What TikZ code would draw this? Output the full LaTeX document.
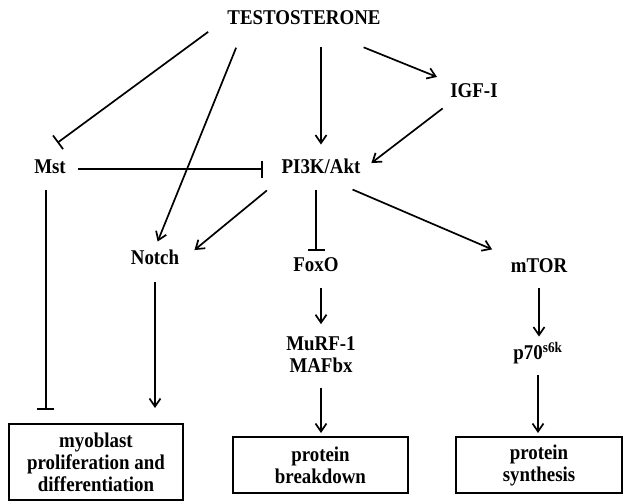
\documentclass[tikz,border=0pt]{standalone}
\usepackage{fontspec}
\setmainfont[FakeStretch=0.9]{Liberation Serif}
\usetikzlibrary{arrows.meta, calc, positioning}
\tikzset{
  % testo dei nodi
  txt/.style={font=\fontsize{21}{22}\selectfont\bfseries, inner sep=3pt, align=center},
  lbl/.style={txt, text height=13.5pt, text depth=4pt},
  % riquadri degli effetti finali
  outbox/.style={txt, draw, line width=2pt},
  % attivazione e inibizione
  act/.style={-{Straight Barb[length=8pt, width=11pt]}, line width=1.7pt},
  inh/.style={-{Bar[width=17pt]}, line width=1.7pt},
}

\begin{document}
\begin{tikzpicture}[x=1pt, y=-1pt]
  \useasboundingbox (0,0) rectangle (624,501);
  \node[lbl] (testo) at (304,20) {TESTOSTERONE};
  \node[lbl] (igf) at (474,93) {IGF-I};
  \node[lbl] (mst) at (50,169) {Mst};
  \node[lbl] (pi3k) at (321,169) {PI3K/Akt};
  \node[lbl] (notch) at (155,260) {Notch};
  \node[lbl] (foxo) at (316,267) {FoxO};
  \node[lbl] (mtor) at (539,268) {mTOR};
  \node[txt] (murf) at (321,355) {MuRF-1\\MAFbx};
  \node[lbl] (p70) at (538,355) {p70\textsuperscript{s6k}};
  \node[outbox, minimum width=174pt, minimum height=76pt] (prolif) at (96,462) {myoblast\\proliferation and\\differentiation};
  \node[outbox, minimum width=175pt, minimum height=56pt] (brk) at (320.5,465) {protein\\breakdown};
  \node[outbox, minimum width=166pt, minimum height=56pt] (syn) at (539,465) {protein\\synthesis};
  % dal testosterone
  \draw[inh, shorten <=20pt, shorten >=24pt] (testo.west) -- (mst.135);
  \draw[act, shorten <=17pt, shorten >=7pt] (testo.191) -- (notch.north);
  \draw[act, shorten <=15.5pt, shorten >=12.5pt] (testo.south -| pi3k.north) -- (pi3k.north);
  \draw[act, shorten <=41pt, shorten >=11pt] (testo.331) -- (igf.north west);
  \draw[act, shorten <=5.7pt, shorten >=9.8pt] (igf.south west) -- (pi3k.east);
  % Mst
  \draw[inh, shorten <=9pt, shorten >=15.4pt] (mst.east) -- (pi3k.west);
  \draw[inh, shorten <=9.5pt, shorten >=13pt] (mst.250) -- (mst.250 |- prolif.north);
  \draw[act, shorten <=10.5pt, shorten >=15pt] (notch.south) -- (notch.south |- prolif.north);
  % da PI3K/Akt
  \draw[act, shorten <=15pt, shorten >=15.7pt] (pi3k.south west) -- (notch.east);
  \draw[inh, shorten <=9.5pt, shorten >=4.5pt] (pi3k.south -| foxo.north) -- (foxo.north);
  \draw[act, shorten <=21.8pt, shorten >=16.9pt] (pi3k.314) -- (mtor.north west);
  \draw[act, shorten <=9.5pt, shorten >=9.6pt] (foxo.south -| murf.north) -- (murf.north);
  \draw[act, shorten <=11.6pt, shorten >=3pt] (murf.south) -- (murf.south |- brk.north);
  \draw[act, shorten <=8.5pt, shorten >=6.5pt] (mtor.south) -- (mtor.south |- p70.north);
  \draw[act, shorten <=8.5pt, shorten >=3pt] (p70.south) -- (p70.south |- syn.north);
\end{tikzpicture}
\end{document}
